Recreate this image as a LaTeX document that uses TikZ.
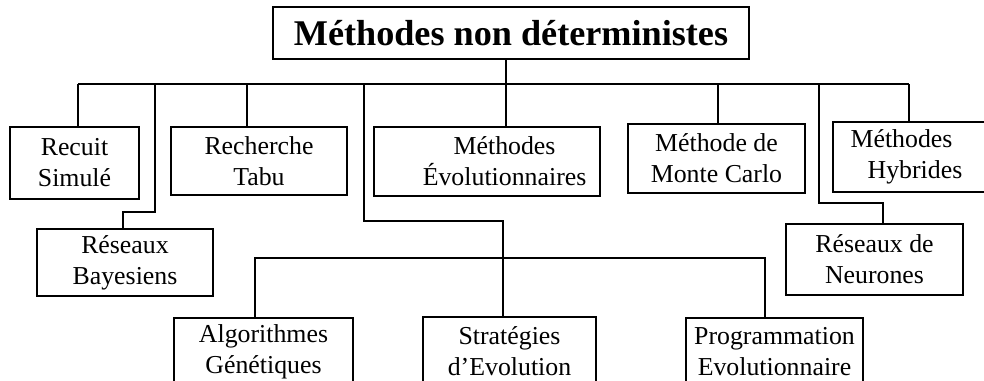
\documentclass[tikz,border=0pt]{standalone}
\usepackage{fontspec}
\setmainfont{Liberation Serif}
\usepackage{tikz}
\usetikzlibrary{positioning, calc}
\newcommand{\pix}{0.02cm}

\begin{document}
\begin{tikzpicture}[x=0.02cm, y=-0.02cm,
    titre/.style={draw, line width=1.1pt, inner sep=0pt, minimum width=476*\pix, minimum height=52*\pix, font=\fontsize{20.6pt}{24pt}\selectfont\bfseries},
    boite/.style 2 args={draw, line width=0.6pt, inner sep=0pt, align=center, minimum width=#1*\pix, minimum height=#2*\pix, font=\fontsize{14.7pt}{17.6pt}\selectfont},
    lien/.style={line width=1.1pt}]
\useasboundingbox (0,0) rectangle (984,380);
\clip (0,0) rectangle (984,380);

% Titre
\node[titre] (titre) at (511,33) {Méthodes non déterministes};

% Premier niveau
\node[boite={129}{72}] (rs) at (74.5,163) {Recuit\\Simulé};
\node[boite={176}{68}] (rt) at (259,161) {Recherche\\Tabu};
\node[boite={226}{69}] (me) at (487,161.5) {\hspace*{20pt}Méthodes\\\hspace*{20pt}Évolutionnaires};
\node[boite={177}{69}] (mc) at (716.5,158.5) {Méthode de\\Monte Carlo};
\node[boite={177}{70}] (mh) at (921.5,157) {Méthodes\hspace*{22.7pt}\mbox{}\\Hybrides\hspace*{7.4pt}\mbox{}};
\node[boite={176}{67}] (rb) at (125,262.5) {Réseaux\\Bayesiens};
\node[boite={177}{71}] (rn) at (874.5,259.5) {Réseaux de\\Neurones};

% Methodes evolutionnaires
\node[boite={179}{68}] (ag) at (263.5,352) {Algorithmes\\Génétiques};
\node[boite={173}{68}] (st) at (509.5,351) {Stratégies\\d’Evolution};
\node[boite={177}{68}] (pe) at (774.5,352) {Programmation\\Evolutionnaire};

% Bus principal
\coordinate (bus) at (506,84);
\coordinate (bg) at (78,84);
\coordinate (bd) at (909,84);
\draw[lien] (titre.south -| bus) -- (bus);
\draw[lien] (bg) -- (bd);

% Branches
\coordinate (j1) at (155,84);
\coordinate (k1) at (123,212);
\coordinate (j2) at (247,84);
\coordinate (j3) at (364,84);
\coordinate (k3) at (503,221);
\coordinate (j6) at (718,84);
\coordinate (j7) at (819,84);
\coordinate (k7) at (883,203);
\draw[lien] (bg) -- (bg |- rs.north);
\draw[lien] (j1) |- (k1) -- (k1 |- rb.north);
\draw[lien] (j2) -- (j2 |- rt.north);
\draw[lien] (j3) |- (k3) -- (k3 |- st.north);
\draw[lien] (bus) -- (bus |- me.north);
\draw[lien] (j6) -- (j6 |- mc.north);
\draw[lien] (j7) |- (k7) -- (k7 |- rn.north);
\draw[lien] (bd) -- (bd |- mh.north);

% Second bus
\coordinate (g2) at (255,258);
\coordinate (d2) at (765,258);
\draw[lien] (g2 |- ag.north) -- (g2) -- (d2) -- (d2 |- pe.north);
\end{tikzpicture}
\end{document}
